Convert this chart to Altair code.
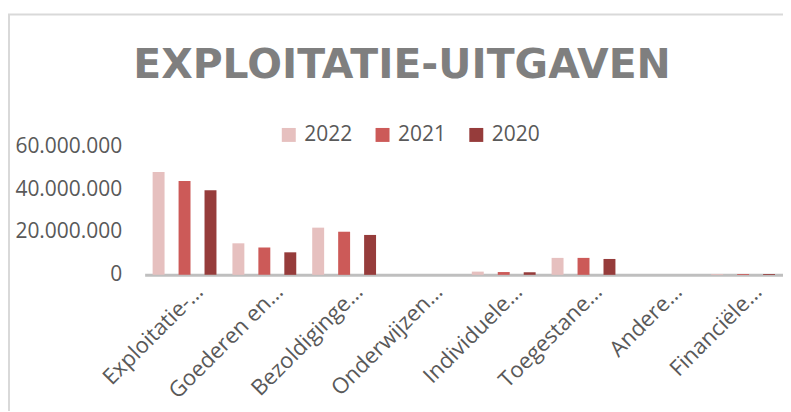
import altair as alt
import pandas as pd

categories = ["Exploitatie-…", "Goederen en…", "Bezoldiginge…", "Onderwijzen…",
              "Individuele…", "Toegestane…", "Andere…", "Financiële…"]
years = ["2022", "2021", "2020"]
values_2022 = [47900000, 14700000, 22000000, 0, 1500000, 7900000, 0, 400000]
values_2021 = [43700000, 12700000, 20100000, 0, 1300000, 7900000, 0, 400000]
values_2020 = [39500000, 10500000, 18600000, 0, 1200000, 7400000, 0, 400000]
colors = ["#e6c0bf", "#cc5a58", "#963c3b"]
y_ticks = [0, 20000000, 40000000, 60000000]

rows = []
for y, vals in zip(years, [values_2022, values_2021, values_2020]):
    for c, v in zip(categories, vals):
        rows.append({"categorie": c, "jaar": y, "waarde": v})
df = pd.DataFrame(rows)

FONT = "Open Sans"
GREY = "#595959"

bars = alt.Chart(df).mark_bar().encode(
    x=alt.X("categorie:N", sort=categories,
            scale=alt.Scale(paddingInner=0.2, paddingOuter=0.1),
            axis=alt.Axis(title=None, labelAngle=-45, labelAlign="right",
                          labelBaseline="middle", labelPadding=13, labelOffset=15,
                          ticks=False,
                          domainColor="#bfbfbf", domainWidth=3,
                          labelFont=FONT, labelFontSize=22, labelColor=GREY,
                          labelLimit=300)),
    xOffset=alt.XOffset("jaar:N", sort=years,
                        scale=alt.Scale(paddingInner=0.54, paddingOuter=0)),
    y=alt.Y("waarde:Q", scale=alt.Scale(domain=[0, 60000000]),
            axis=alt.Axis(title=None, values=y_ticks, grid=False, domain=False,
                          ticks=False, labelPadding=23,
                          labelExpr="replace(format(datum.value, ','), regexp(',', 'g'), '.')",
                          labelFont=FONT, labelFontSize=21, labelColor=GREY)),
    color=alt.Color("jaar:N", sort=years,
                    scale=alt.Scale(domain=years, range=colors),
                    legend=alt.Legend(title=None, orient="none", direction="horizontal",
                                      legendX=134, legendY=-22, padding=0,
                                      symbolType="square", symbolSize=196,
                                      symbolStrokeWidth=0, labelOffset=5,
                                      columnPadding=19,
                                      labelFont=FONT, labelFontSize=21,
                                      labelColor=GREY)),
)

frame_left = alt.Chart(alt.Data(values=[{}])).mark_rule(color="#d9d9d9", strokeWidth=2).encode(
    x=alt.value(-136), y=alt.value(-132), y2=alt.value(270))
frame_top = alt.Chart(alt.Data(values=[{}])).mark_rule(color="#d9d9d9", strokeWidth=2).encode(
    x=alt.value(-137), x2=alt.value(660), y=alt.value(-132))

chart = alt.layer(frame_left, frame_top, bars).properties(
    width=640, height=129,
    title=alt.TitleParams("EXPLOITATIE-UITGAVEN", font="DejaVu Sans", fontSize=41,
                          fontWeight="bold", color="#7f7f7f", anchor="middle",
                          frame="group", dx=-62, offset=-106, baseline="alphabetic"),
    padding={"left": 137, "top": 138, "right": 0, "bottom": 136},
    autosize=alt.AutoSizeParams(type="none"),
).configure_view(stroke=None)

chart.save("out.html", embed_options={"renderer": "svg", "actions": False})
